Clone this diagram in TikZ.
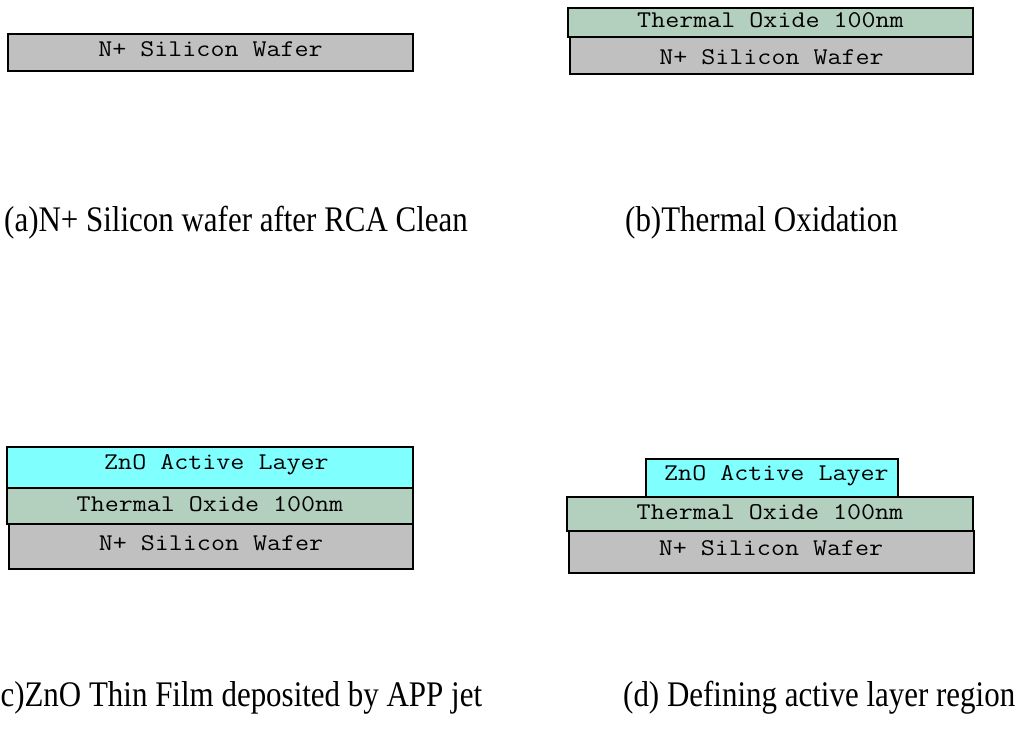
\documentclass[tikz,border=0pt]{standalone}
\usepackage{fontspec}
\setmainfont{Liberation Serif}
\definecolor{waferc}{HTML}{C0C0C0}
\definecolor{oxidec}{HTML}{B3D0BE}
\definecolor{znoc}{HTML}{80FFFF}
\newcommand{\bx}[1]{\scalebox{1.135}[1]{#1}}
\newcommand{\cp}[1]{\scalebox{0.86}[1]{#1}}
\begin{document}
\begin{tikzpicture}[x=1pt,y=-1pt,
  layer/.style={draw=black, line width=1.4pt},
  lbl/.style={font=\ttfamily\fontsize{24}{24}\selectfont, anchor=base, inner sep=0pt},
  lblw/.style={font=\ttfamily\fontsize{24}{24}\selectfont, anchor=base west, inner sep=0pt},
  capt/.style={font=\fontsize{36}{36}\selectfont, anchor=base west, inner sep=0pt}]
\useasboundingbox (0,0) rectangle (1018,734);
% (a)
\draw[layer, fill=waferc] (8,34) rectangle (413,71);
\node[lbl] (aw) at (210.5,56) {\bx{N+ Silicon Wafer}};
% (b)
\draw[layer, fill=oxidec] (568,8) rectangle (973,37);
\node[lbl] (bo) at (770.5,27) {\bx{Thermal Oxide 100nm}};
\draw[layer, fill=waferc] (570,37) rectangle (973,74);
\node[lbl] (bw) at (771.5,64) {\bx{N+ Silicon Wafer}};
% (c)
\draw[layer, fill=znoc] (7,447) rectangle (413,488);
\node[lblw] (cz) at (104,469) {\bx{ZnO Active Layer}};
\draw[layer, fill=oxidec] (7,488) rectangle (413,524);
\node[lbl] (co) at (210,511) {\bx{Thermal Oxide 100nm}};
\draw[layer, fill=waferc] (9,524) rectangle (413,569);
\node[lbl] (cw) at (211,550) {\bx{N+ Silicon Wafer}};
% (d)
\draw[layer, fill=znoc] (646,459) rectangle (898,497);
\node[lblw] (dz) at (664,480) {\bx{ZnO Active Layer}};
\draw[layer, fill=oxidec] (567,497) rectangle (973,531);
\node[lbl] (do) at (770,519) {\bx{Thermal Oxide 100nm}};
\draw[layer, fill=waferc] (569,531) rectangle (974,573);
\node[lbl] (dw) at (771,555) {\bx{N+ Silicon Wafer}};
% captions
\node[capt] (capa) at (4,231) {\cp{(a)N+ Silicon wafer after RCA Clean}};
\node[capt] (capb) at (625,231) {\cp{(b)Thermal Oxidation}};
\node[capt] (capc) at (-10,706) {\cp{(c)ZnO Thin Film deposited by APP jet}};
\node[capt] (capd) at (623,706) {\cp{(d) Defining active layer region}};
\end{tikzpicture}
\end{document}
